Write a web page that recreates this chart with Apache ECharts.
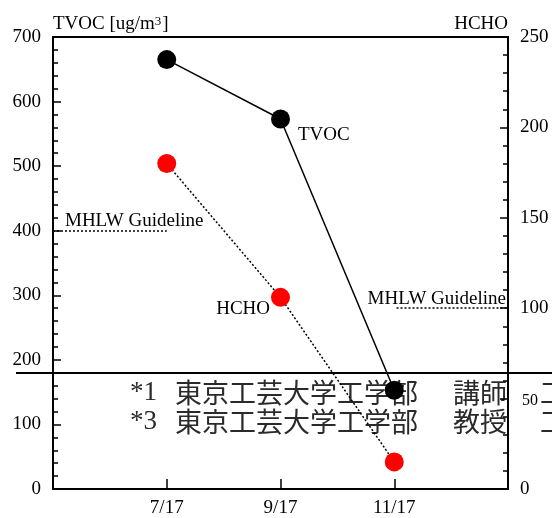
<!DOCTYPE html>
<html>
<head>
<meta charset="utf-8">
<script src="https://cdn.jsdelivr.net/npm/echarts@6/dist/echarts.min.js"></script>
<style>html,body{margin:0;padding:0;background:#fff;}#c{width:552px;height:518px;}</style>
</head>
<body>
<div id="c"></div>
<script>
const categories = ['7/17', '9/17', '11/17'];
const tvoc = [665, 573, 153];
const hcho = [180, 106, 15];
const tvocGuideline = 400;
const hchoGuideline = 100;
const guidelineLabel = 'MHLW Guideline';
const noteLine1 = ['*1', '東京工芸大学工学部', '講師', '工'];
const noteLine2 = ['*3', '東京工芸大学工学部', '教授', '工'];

const SERIF = '"Liberation Serif", "Times New Roman", serif';
const CJK = '"Noto Sans CJK JP", sans-serif';
const chart = echarts.init(document.getElementById('c'));

function noteTexts(parts, y) {
  const xs = [130, 175, 453, 540];
  return parts.map((t, i) => ({
    type: 'text', z: 0, x: xs[i], y: y,
    style: { text: t, fill: '#2a2a2a', font: (i === 0 ? '27px ' + SERIF : '27px ' + CJK), verticalAlign: 'middle', align: 'left' }
  }));
}

chart.setOption({
  animation: false,
  backgroundColor: '#fff',
  grid: { left: 53, right: 44, top: 37, bottom: 26, show: true, borderColor: '#000', borderWidth: 2, backgroundColor: 'transparent' },
  xAxis: {
    type: 'value', min: 0, max: categories.length + 1, interval: 1,
    axisLine: { lineStyle: { color: '#000', width: 2 } },
    axisTick: { inside: true, length: 10, lineStyle: { color: '#000', width: 1.5 } },
    splitLine: { show: false },
    axisLabel: { margin: 10, color: '#000', fontFamily: SERIF, fontSize: 19,
      formatter: v => categories[v - 1] || '' }
  },
  yAxis: [{
    type: 'value', min: 0, max: 700, interval: 100, position: 'left',
    name: 'TVOC [ug/m{sup|3}]', nameLocation: 'end', nameGap: 3,
    nameTextStyle: { color: '#000', fontFamily: SERIF, fontSize: 19, align: 'left', verticalAlign: 'bottom',
      rich: { sup: { fontSize: 13, fontFamily: SERIF, color: '#000', verticalAlign: 'top', padding: [0, 1, 6, 0] } } },
    axisLine: { show: true, lineStyle: { color: '#000', width: 2 } },
    axisTick: { inside: true, length: 8, lineStyle: { color: '#000', width: 1.5 } },
    minorTick: { show: true, splitNumber: 5, length: 5, lineStyle: { color: '#000', width: 1.5 } },
    splitLine: { show: false },
    axisLabel: { margin: 12, color: '#000', fontFamily: SERIF, fontSize: 19 }
  }, {
    type: 'value', min: 0, max: 250, interval: 50, position: 'right',
    name: 'HCHO', nameLocation: 'end', nameGap: 3,
    nameTextStyle: { color: '#000', fontFamily: SERIF, fontSize: 19, align: 'right', verticalAlign: 'bottom' },
    axisLine: { show: true, lineStyle: { color: '#000', width: 2 } },
    axisTick: { inside: true, length: 8, lineStyle: { color: '#000', width: 1.5 } },
    minorTick: { show: true, splitNumber: 5, length: 5, lineStyle: { color: '#000', width: 1.5 } },
    splitLine: { show: false },
    axisLabel: { margin: 12, color: '#000', fontFamily: SERIF, fontSize: 19,
      formatter: v => v === 50 ? '{s|50}' : String(v),
      rich: { s: { fontSize: 16, fontFamily: SERIF, color: '#000', padding: [4, 0, 0, 2] } } }
  }],
  graphic: [
    { type: 'line', z: 0, shape: { x1: 16, y1: 373, x2: 552, y2: 373 }, style: { stroke: '#000', lineWidth: 2 } },
    ...noteTexts(noteLine1, 393),
    ...noteTexts(noteLine2, 422)
  ],
  series: [{
    name: 'TVOC', type: 'line', yAxisIndex: 0, z: 5,
    data: tvoc.map((v, i) => [i + 1, v]),
    symbol: 'circle', symbolSize: 19,
    itemStyle: { color: '#000' },
    lineStyle: { color: '#000', width: 1.5 },
    label: { show: true, position: 'right', distance: 8, offset: [0, 16], color: '#000', fontFamily: SERIF, fontSize: 19,
      formatter: p => p.dataIndex === 1 ? 'TVOC' : '' },
    markLine: {
      silent: true, symbol: 'none',
      lineStyle: { color: '#000', width: 1.5, type: [2, 2] },
      label: { show: true, position: 'insideStartTop', distance: 0, padding: [0, 0, 0, 12], color: '#000', fontFamily: SERIF, fontSize: 19, formatter: guidelineLabel },
      data: [[{ coord: [0, tvocGuideline] }, { coord: [1, tvocGuideline] }]]
    }
  }, {
    name: 'HCHO', type: 'line', yAxisIndex: 1, z: 4,
    data: hcho.map((v, i) => [i + 1, v]),
    symbol: 'circle', symbolSize: 19,
    itemStyle: { color: '#ff0000' },
    lineStyle: { color: '#000', width: 1.5, type: [2, 2] },
    label: { show: true, position: 'left', distance: 1, offset: [0, 12], color: '#000', fontFamily: SERIF, fontSize: 19,
      formatter: p => p.dataIndex === 1 ? 'HCHO' : '' },
    markLine: {
      silent: true, symbol: 'none',
      lineStyle: { color: '#000', width: 1.5, type: [2, 2] },
      label: { show: true, position: 'insideEndTop', distance: 0, padding: [0, 2, 0, 0], color: '#000', fontFamily: SERIF, fontSize: 19, formatter: guidelineLabel },
      data: [[{ coord: [3.02, hchoGuideline] }, { coord: [4, hchoGuideline] }]]
    }
  }]
});
</script>
</body>
</html>
